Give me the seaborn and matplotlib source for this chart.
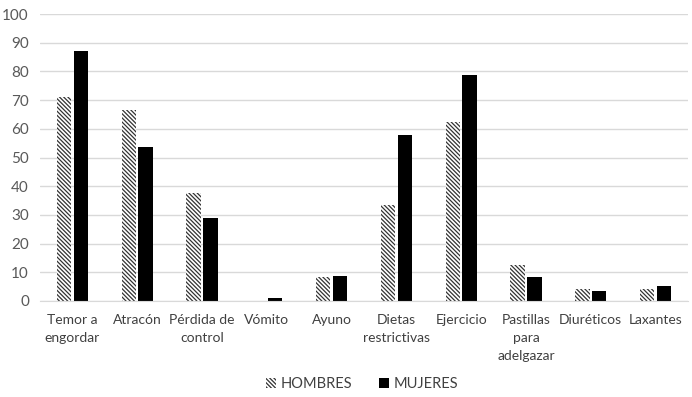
import matplotlib
matplotlib.use("Agg")
import matplotlib.pyplot as plt
import seaborn as sns
import pandas as pd

categories = ["Temor a\nengordar", "Atracón", "Pérdida de\ncontrol", "Vómito", "Ayuno",
              "Dietas\nrestrictivas", "Ejercicio", "Pastillas\npara\nadelgazar", "Diuréticos", "Laxantes"]
hombres = [71, 66.5, 37.5, 0, 8.5, 33.5, 62.5, 12.5, 4.2, 4.2]
mujeres = [87, 53.5, 29, 1.2, 8.7, 58, 78.7, 8.5, 3.4, 5.2]
series = ["HOMBRES", "MUJERES"]
yticks = list(range(0, 101, 10))

df = pd.DataFrame({
    "cat": categories * 2,
    "val": hombres + mujeres,
    "serie": [series[0]] * len(categories) + [series[1]] * len(categories),
})

sns.set_style("white")
plt.rcParams["font.family"] = ["Lato", "DejaVu Sans"]
plt.rcParams["hatch.linewidth"] = 0.9

HATCH = "\\" * 8

fig = plt.figure(figsize=(6.92, 3.97), dpi=100)
ax = fig.add_axes([40 / 692, 1 - 301 / 397, 648 / 692, 287 / 397])

sns.barplot(data=df, x="cat", y="val", hue="serie", hue_order=series,
            palette={"HOMBRES": "white", "MUJERES": "black"},
            width=0.52, gap=0.15, ax=ax, legend=False, saturation=1)

ncat = len(categories)
for i, p in enumerate(ax.patches[:2 * ncat]):
    if i < ncat:
        p.set_facecolor("white")
        p.set_edgecolor("#333333")
        p.set_hatch(HATCH)
        p.set_linewidth(0)
    else:
        p.set_facecolor("black")
        p.set_edgecolor("black")
        p.set_linewidth(0)

ax.set_ylim(0, 100)
ax.set_xlim(-0.5, ncat - 0.5)
ax.set_yticks(yticks)
ax.yaxis.grid(True, color="#d9d9d9", linewidth=1)
ax.set_axisbelow(True)
for s in ["top", "right", "left"]:
    ax.spines[s].set_visible(False)
ax.spines["bottom"].set_color("#d9d9d9")
ax.tick_params(axis="y", length=0, labelsize=11, colors="#595959", pad=8)
ax.tick_params(axis="x", length=0, labelsize=10, colors="#404040", pad=9)
for lbl in ax.get_xticklabels():
    lbl.set_linespacing(1.6)
ax.set_xlabel("")
ax.set_ylabel("")

from matplotlib.patches import Patch
handles = [Patch(facecolor="white", edgecolor="#333333", hatch=HATCH, linewidth=0, label=series[0]),
           Patch(facecolor="black", edgecolor="black", linewidth=0, label=series[1])]
fig.legend(handles=handles, loc="center", bbox_to_anchor=(362 / 692, 1 - 384 / 397), ncol=2,
           frameon=False, fontsize=10.5, handlelength=0.7, handleheight=0.7, handletextpad=0.3,
           columnspacing=1.8, labelcolor="#404040")

fig.savefig("out.png", dpi=100)
